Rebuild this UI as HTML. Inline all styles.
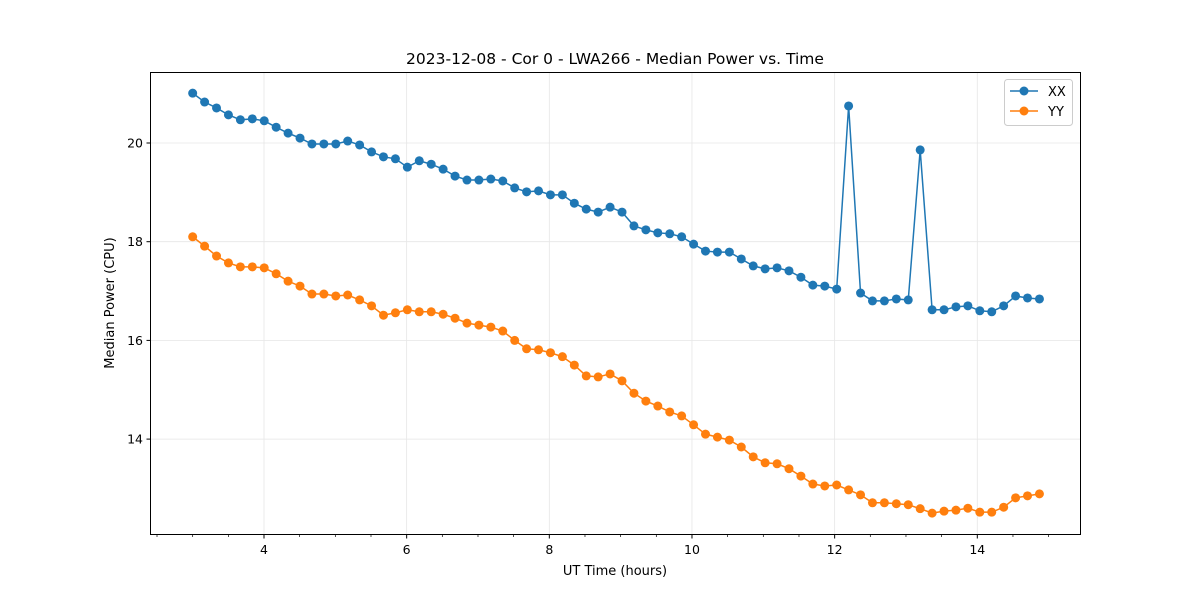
<!DOCTYPE html>
<html><head><meta charset="utf-8"><style>
html,body{margin:0;padding:0;background:#fff;}
svg{display:block;font-family:"DejaVu Sans","Liberation Sans",sans-serif;}
</style></head><body>
<svg id="chart" width="1200" height="600" viewBox="0 0 1200 600" xmlns="http://www.w3.org/2000/svg">
<rect width="1200" height="600" fill="#fff"/>
<text x="615" y="64" text-anchor="middle" font-size="15.5">2023-12-08 - Cor 0 - LWA266 - Median Power vs. Time</text>
<g id="grid"></g><g id="series"></g>
<rect x="150.5" y="72.5" width="930" height="462" fill="none" stroke="#000" stroke-width="1"/>
<g id="axes"></g>
<text x="615" y="575" text-anchor="middle" font-size="13">UT Time (hours)</text>
<text transform="translate(114,303) rotate(-90)" text-anchor="middle" font-size="13">Median Power (CPU)</text>
<g>
<rect x="1004.5" y="79.5" width="68" height="46" rx="3" fill="#fff" fill-opacity="0.8" stroke="#ccc"/>
<g><line x1="1010" y1="91" x2="1038" y2="91" stroke="#1f77b4" stroke-width="1.5"/><circle cx="1024" cy="91" r="4.5" fill="#1f77b4"/><text x="1048" y="96" font-size="13">XX</text></g>
<g><line x1="1010" y1="111" x2="1038" y2="111" stroke="#ff7f0e" stroke-width="1.5"/><circle cx="1024" cy="111" r="4.5" fill="#ff7f0e"/><text x="1048" y="116" font-size="13">YY</text></g>
</g>
</svg>
<script>
const startHour = 3.0;
const stepHours = 0.1672;
const xTickLabels = [4, 6, 8, 10, 12, 14];
const yTickLabels = [14, 16, 18, 20];
const xxValues = [21.01,20.83,20.71,20.57,20.47,20.49,20.45,20.32,20.2,20.1,19.98,19.98,19.98,20.04,19.96,19.82,19.72,19.68,19.51,19.64,19.57,19.47,19.33,19.25,19.25,19.27,19.23,19.09,19.01,19.03,18.95,18.95,18.78,18.66,18.6,18.7,18.6,18.32,18.24,18.18,18.16,18.1,17.95,17.81,17.79,17.79,17.65,17.51,17.45,17.47,17.41,17.28,17.12,17.1,17.04,20.75,16.96,16.8,16.8,16.84,16.82,19.86,16.62,16.62,16.68,16.7,16.6,16.58,16.7,16.9,16.86,16.84];
const yyValues = [18.1,17.91,17.71,17.57,17.49,17.49,17.47,17.35,17.2,17.1,16.94,16.94,16.9,16.92,16.82,16.7,16.51,16.56,16.62,16.58,16.58,16.53,16.45,16.35,16.31,16.27,16.19,16.0,15.83,15.81,15.75,15.67,15.5,15.28,15.26,15.32,15.18,14.93,14.77,14.67,14.55,14.47,14.29,14.1,14.04,13.98,13.84,13.64,13.52,13.5,13.4,13.25,13.09,13.05,13.07,12.97,12.87,12.71,12.71,12.69,12.67,12.59,12.5,12.54,12.56,12.6,12.52,12.52,12.62,12.81,12.85,12.89];
const NS="http://www.w3.org/2000/svg";
function xs(h){return 264+(h-4)*71.33;}
function ys(v){return 143+(20-v)*49.35;}
function mk(tag,attrs,parent){const e=document.createElementNS(NS,tag);for(const k in attrs)e.setAttribute(k,attrs[k]);parent.appendChild(e);return e;}
const grid=document.getElementById('grid'),axes=document.getElementById('axes'),series=document.getElementById('series');
xTickLabels.forEach(t=>{const x=xs(t);
 const g=mk('line',{x1:x,y1:72.5,x2:x,y2:534.5,stroke:'#e6e6e6','stroke-width':0.8},grid);
 
 
 mk('line',{x1:x,y1:534.5,x2:x,y2:538.5,stroke:'#000'},axes);
 const tx=mk('text',{x:x,y:554,'text-anchor':'middle','font-size':12.5},axes);tx.textContent=t;
 
 
});
for(let m=2.5;m<=15;m+=0.5){if(m%2===0)continue;const x=xs(m);if(x<151||x>1080)continue;mk('line',{x1:x,y1:534.5,x2:x,y2:537,stroke:'#000','stroke-width':0.7},axes);}
yTickLabels.forEach(t=>{const y=ys(t);
 const g=mk('line',{x1:150.5,y1:y,x2:1080.5,y2:y,stroke:'#e6e6e6','stroke-width':0.8},grid);
 
 
 mk('line',{x1:146.5,y1:y,x2:150.5,y2:y,stroke:'#000'},axes);
 const tx=mk('text',{x:143,y:y+4.5,'text-anchor':'end','font-size':12.5},axes);tx.textContent=t;
 
 
});
function draw(vals,color,name){
 const pts=vals.map((v,i)=>[xs(startHour+i*stepHours),ys(v)]);
 const p=mk('polyline',{points:pts.map(p=>p.join(',')).join(' '),fill:'none',stroke:color,'stroke-width':1.5},series);
 
 
 pts.forEach(pt=>{const c=mk('circle',{cx:pt[0],cy:pt[1],r:4.5,fill:color},series);
  
  });
}
draw(xxValues,'#1f77b4','xx');
draw(yyValues,'#ff7f0e','yy');
</script>
</body></html>
